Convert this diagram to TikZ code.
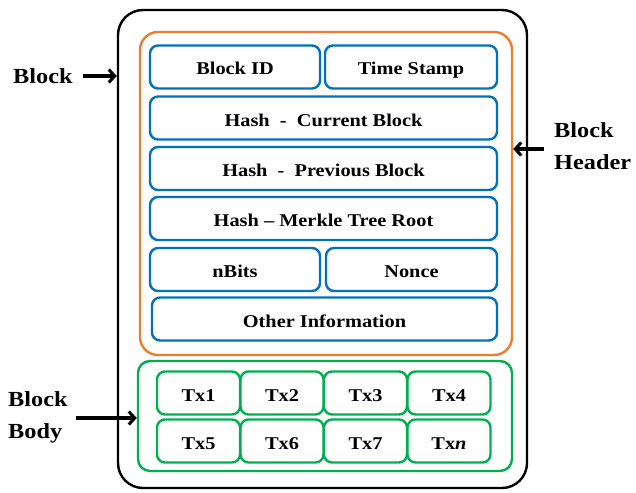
\documentclass[tikz,border=0pt]{standalone}
\usepackage{fontspec}
\setmainfont[FakeStretch=1.13]{Liberation Serif}
\usetikzlibrary{arrows.meta}
\definecolor{hdrorange}{RGB}{237,125,49}
\definecolor{fieldblue}{RGB}{0,112,192}
\definecolor{txgreen}{RGB}{0,176,80}
\tikzstyle{every node}=[font=\bfseries\fontsize{18}{20}\selectfont, inner sep=0pt]
\tikzstyle{blockbox}=[draw=black, line width=2.4pt, rounded corners=25pt]
\tikzstyle{hdrbox}=[draw=hdrorange, line width=2.4pt, rounded corners=18pt]
\tikzstyle{bodybox}=[draw=txgreen, line width=2.4pt, rounded corners=12pt]
\tikzstyle{field}=[draw=fieldblue, line width=2.4pt, rounded corners=8pt, minimum height=43pt, text height=18pt, text depth=2pt]
\tikzstyle{tx}=[draw=txgreen, line width=2.4pt, rounded corners=8pt, minimum width=83pt, minimum height=43pt, text height=18pt, text depth=2pt]
\tikzstyle{side}=[font=\bfseries\fontsize{21.5}{32}\selectfont, align=left]
\tikzstyle{arr}=[line width=3.4pt, -{Straight Barb[length=6pt, width=13pt, line width=3pt]}]

\begin{document}
\begin{tikzpicture}[x=1pt, y=-1pt]
\useasboundingbox (0,0) rectangle (636,492);
% Frames
    \node[blockbox, minimum width=409pt, minimum height=478pt] (block) at (322.5,249) {};
    \node[hdrbox, minimum width=372pt, minimum height=323pt] (header) at (326,193.5) {};
    \node[bodybox, minimum width=374pt, minimum height=110pt] (body) at (325,416) {};
% Header fields
    \node[field, minimum width=170pt] (blockid) at (235,67) {Block ID};
    \node[field, minimum width=172pt] (stamp) at (411,67) {Time Stamp};
    \node[field, minimum width=347pt] (curhash) at (323.5,118) {Hash \ - \ Current Block};
    \node[field, minimum width=347pt] (prevhash) at (323.5,168.5) {Hash \ - \ Previous Block};
    \node[field, minimum width=347pt] (merkle) at (323.5,218.5) {Hash -- Merkle Tree Root};
    \node[field, minimum width=170pt] (nbits) at (235,269.5) {nBits};
    \node[field, minimum width=171pt] (nonce) at (411.5,269.5) {Nonce};
    \node[field, minimum width=345pt] (other) at (324.5,319) {Other Information};
% Transactions
    \node[tx] (tx1) at (198.5,393) {Tx1};
    \node[tx] (tx2) at (282,393) {Tx2};
    \node[tx] (tx3) at (365.5,393) {Tx3};
    \node[tx] (tx4) at (449,393) {Tx4};
    \node[tx] (tx5) at (198.5,441) {Tx5};
    \node[tx] (tx6) at (282,441) {Tx6};
    \node[tx] (tx7) at (365.5,441) {Tx7};
    \node[tx] (txn) at (449,441) {Tx\textit{n}};
% Labels and arrows
    \node[side, anchor=west] (blocklbl) at (13,76) {Block};
    \node[side, anchor=west] (hdrlbl) at (554,146) {Block\\Header};
    \node[side, anchor=west] (bodylbl) at (8,417) {Block\\Body};
    \draw[arr] ([xshift=10pt]blocklbl.east) -- (blocklbl.east -| block.west);
    \draw[arr] ([xshift=-10pt]hdrlbl.west |- 0,149) -- (header.east |- 0,149);
    \draw[arr] ([xshift=8pt]bodylbl.east |- 0,418) -- (body.west |- 0,418);
\end{tikzpicture}
\end{document}
